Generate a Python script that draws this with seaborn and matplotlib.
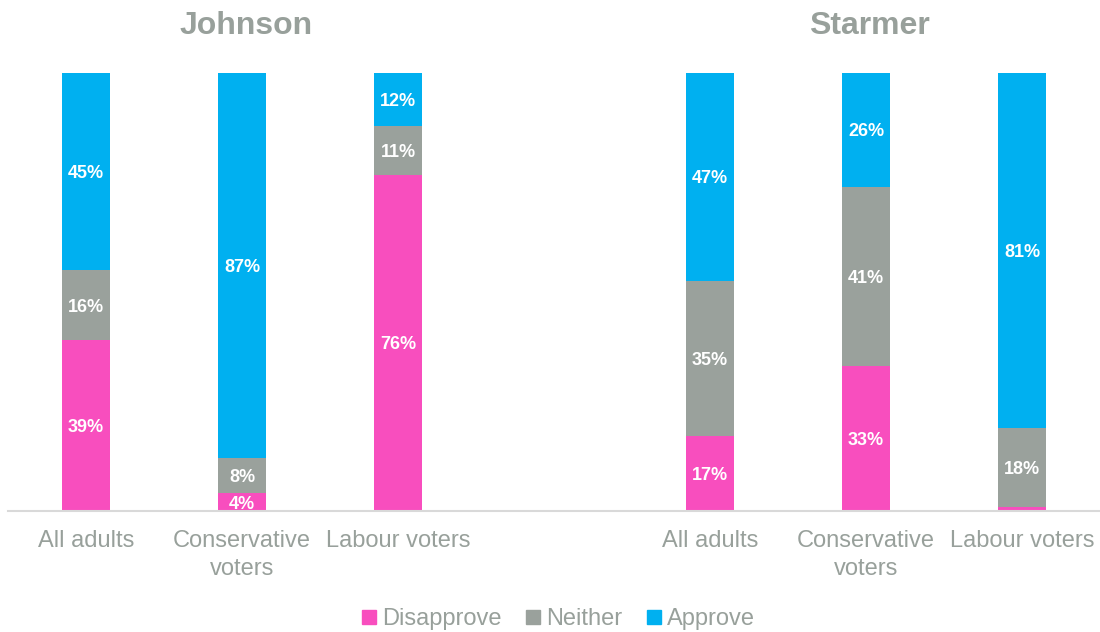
import numpy as np
import pandas as pd
import matplotlib
matplotlib.use("Agg")
import matplotlib.pyplot as plt
import matplotlib.transforms as mtransforms
from matplotlib.lines import Line2D
import seaborn as sns

leaders = ["Johnson", "Starmer"]
groups = ["All adults", "Conservative\nvoters", "Labour voters"]
responses = ["Disapprove", "Neither", "Approve"]
disapprove = [39, 4, 76, 17, 33, 1]
neither = [16, 8, 11, 35, 41, 18]
approve = [45, 87, 12, 47, 26, 81]

colors = {"Disapprove": "#F84EBE", "Neither": "#9AA19C", "Approve": "#00B0F0"}
text_gray = "#98A09B"

sns.set_theme(style="white")
plt.rcParams["font.family"] = ["Liberation Sans", "DejaVu Sans"]

rows = []
for li, leader in enumerate(leaders):
    for gi, grp in enumerate(groups):
        i = li * len(groups) + gi
        vals = [disapprove[i], neither[i], approve[i]]
        tot = sum(vals)
        cum = 0.0
        for r, v in zip(responses, vals):
            share = v / tot * 100
            rows.append(dict(key=f"{leader}|{grp}", leader=leader, group=grp,
                             response=r, value=v, bottom=cum, top=cum + share))
            cum += share
df = pd.DataFrame(rows)

order = [f"{leaders[0]}|{g}" for g in groups] + [" "] + [f"{leaders[1]}|{g}" for g in groups]

fig = plt.figure(figsize=(11, 6.32), dpi=100)
ax = fig.add_axes([8 / 1100, 121 / 632, 1 - 8 / 1100, (559 - 121) / 632])

for r in ["Approve", "Neither", "Disapprove"]:
    sub = df[df.response == r]
    sns.barplot(data=sub, x="key", y="top", order=order, color=colors[r],
                width=0.31, saturation=1, ax=ax, errorbar=None, linewidth=0)

pos = {k: i for i, k in enumerate(order)}
lbl_trans = ax.transData + mtransforms.ScaledTranslation(0, -4.7 / 72, fig.dpi_scale_trans)
for _, row in df.iterrows():
    if row.value < 3:
        continue
    ax.text(pos[row.key], (row.bottom + row.top) / 2, f"{row.value}%",
            ha="center", va="baseline", color="white", fontsize=13, fontweight="bold",
            transform=lbl_trans)

ax.set_ylim(0, 100)
ax.set_xlim(-0.5, len(order) - 0.5)
ax.set_xlabel("")
ax.set_ylabel("")
ax.set_yticks([])
ax.set_xticks(range(len(order)))
ax.set_xticklabels([k.split("|")[1] if "|" in k else "" for k in order],
                   fontsize=17, color=text_gray)
for t in ax.get_xticklabels():
    t.set_linespacing(1.35)
ax.tick_params(axis="x", length=0, pad=13.5)
for s in ["top", "right", "left"]:
    ax.spines[s].set_visible(False)
ax.spines["bottom"].set_color("#D9D9D9")
ax.spines["bottom"].set_linewidth(1.5)

trans = mtransforms.blended_transform_factory(ax.transData, fig.transFigure)
for li, leader in enumerate(leaders):
    center = pos[f"{leader}|{groups[1]}"] + 0.023
    ax.text(center, 1 - 34.5 / 632, leader, transform=trans, ha="center", va="baseline",
            fontsize=23, fontweight="bold", color=text_gray)

handles = [Line2D([], [], marker="s", linestyle="", markersize=9.5,
                  markerfacecolor=colors[r], markeredgecolor=colors[r]) for r in responses]
fig.legend(handles, responses, loc="center", bbox_to_anchor=(0.5 + 8 / 1100, 1 - 619 / 632),
           ncol=3, frameon=False, fontsize=17, labelcolor=text_gray,
           handletextpad=0.2, columnspacing=1.0, handlelength=0.7)

fig.savefig("out.png", dpi=100)
